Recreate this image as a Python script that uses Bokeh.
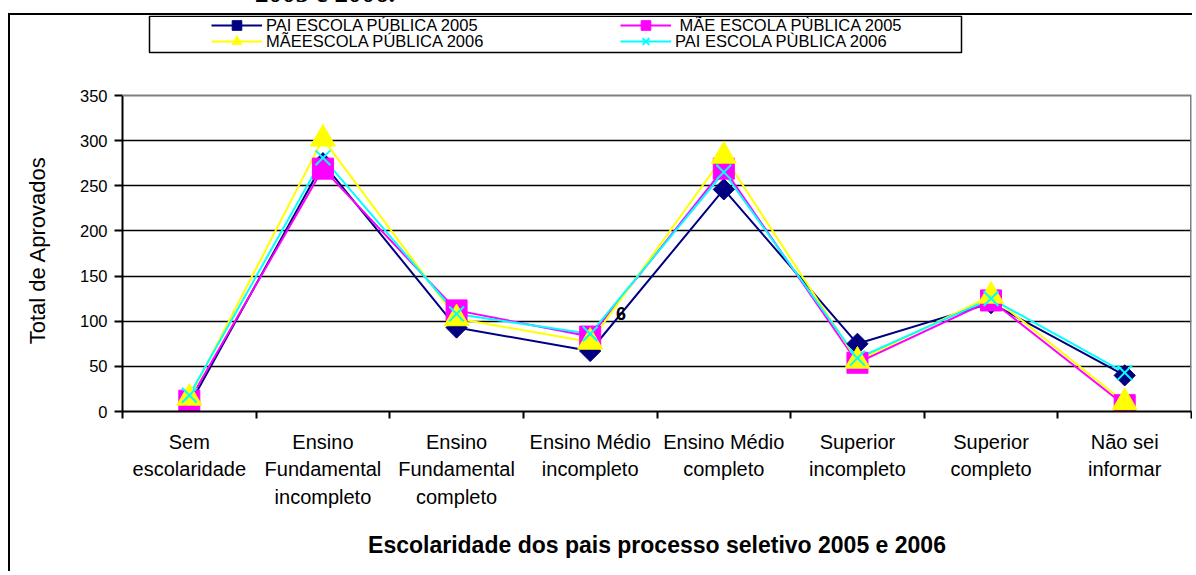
from bokeh.plotting import figure
from bokeh.layouts import column
from bokeh.models import (Range1d, FixedTicker, Legend, LegendItem, Label, BoxAnnotation, Span, Div)
from bokeh.embed import file_html
from bokeh.resources import INLINE
import math

# ---- data ----
categories = ["Sem\nescolaridade", "Ensino\nFundamental\nincompleto", "Ensino\nFundamental\ncompleto",
              "Ensino Médio\nincompleto", "Ensino Médio\ncompleto", "Superior\nincompleto",
              "Superior\ncompleto", "Não sei\ninformar"]
pai_2005 = [7, 275, 93, 67, 246, 75, 120, 40]
mae_2005 = [12, 269, 112, 83, 269, 54, 123, 7]
mae_2006 = [15, 302, 103, 77, 283, 56, 128, 10]
pai_2006 = [18, 281, 108, 86, 265, 59, 125, 43]
series_names = ["PAI ESCOLA PÚBLICA 2005", "\u00a0MÃE ESCOLA PÙBLICA 2005",
                "MÃEESCOLA PÚBLICA 2006", "PAI ESCOLA PÙBLICA 2006"]
y_ticks = [0, 50, 100, 150, 200, 250, 300, 350]
x_title = "Escolaridade dos pais processo seletivo 2005 e 2006"
y_title = "Total de Aprovados"
top_text = "2005 e 2006."

FONT = "Liberation Sans"
CX, CY = 10, 15                        # canvas origin on the page (margin + css border)
FL, FT, FR, FB = 122, 95, 1191, 411    # plot-area edges on the page (value 350 at FT)
W, H = 1196 - CX - 2, 575 - CY - 2
YMAX = y_ticks[-1]
y_top = YMAX * (FB - CY) / (FB - FT)   # frame reaches the top of the canvas
XMIN, XMAX = 0.5, len(categories) + 0.5

pos = list(range(1, len(categories) + 1))
bounds = [i + 0.5 for i in range(0, len(categories) + 1)]

p = figure(width=W, height=H, x_range=Range1d(XMIN, XMAX),
           y_range=Range1d(0, y_top), output_backend="svg", toolbar_location=None,
           min_border_left=FL - CX, min_border_right=(CX + W) - FR,
           min_border_top=0, min_border_bottom=(CY + H) - FB)
p.margin = (0, 0, 0, 8)
p.styles = {"border-left": "2px solid #000000", "border-top": "2px solid #000000"}
p.background_fill_color = "white"
p.border_fill_color = "white"
p.outline_line_color = None

# x axis
xa = p.xaxis[0]
xa.ticker = FixedTicker(ticks=pos, minor_ticks=bounds)
xa.major_label_overrides = {i: c for i, c in zip(pos, categories)}
xa.major_tick_out = 0
xa.major_tick_in = 0
xa.minor_tick_out = 7
xa.minor_tick_in = 0
xa.minor_tick_line_color = "black"
xa.minor_tick_line_width = 2
xa.axis_line_color = "black"
xa.axis_line_width = 2
xa.major_label_text_font = FONT
xa.major_label_text_font_size = "20px"
xa.major_label_text_color = "black"
xa.major_label_text_line_height = 1.25
xa.major_label_standoff = 12
xa.axis_label = x_title
xa.axis_label_text_font = FONT
xa.axis_label_text_font_style = "bold"
xa.axis_label_text_font_size = "23px"
xa.axis_label_text_color = "black"
xa.axis_label_standoff = 21

# y axis (its title is padded so that it centres on the 0-350 part)
ya = p.yaxis[0]
ya.ticker = FixedTicker(ticks=y_ticks)
ya.bounds = (0, YMAX)
ya.major_tick_out = 8
ya.major_tick_in = 0
ya.major_tick_line_color = "black"
ya.major_tick_line_width = 2
ya.minor_tick_out = 0
ya.minor_tick_in = 0
ya.axis_line_color = "black"
ya.axis_line_width = 2
ya.major_label_text_font = FONT
ya.major_label_text_font_size = "16.5px"
ya.major_label_text_color = "black"
ya.major_label_standoff = 7
ya.axis_label = y_title + "\u00a0" * 12
ya.axis_label_text_font = FONT
ya.axis_label_text_font_style = "normal"
ya.axis_label_text_font_size = "22px"
ya.axis_label_text_color = "black"
ya.axis_label_standoff = 27

p.xgrid.visible = False
p.ygrid.ticker = FixedTicker(ticks=y_ticks[1:-1])
p.ygrid.grid_line_color = "black"
p.ygrid.grid_line_width = 1.6
# grey top and right edges of the plot area
p.add_layout(Span(location=YMAX, dimension="width", line_color="#808080", line_width=2))
p.segment(x0=[XMAX], y0=[0], x1=[XMAX], y1=[YMAX], line_color="#808080", line_width=3)

# series
colors = ["#000080", "#FF00FF", "#FFFF00", "#00FFFF"]
data = [pai_2005, mae_2005, mae_2006, pai_2006]
lines = []
for vals, c in zip(data, colors):
    lines.append(p.line(pos, vals, line_color=c, line_width=2))

marks = []
marks.append(p.scatter(pos, pai_2005, marker="square", angle=math.pi / 4, size=15,
                       fill_color=colors[0], line_color=colors[0]))
marks.append(p.scatter(pos, mae_2005, marker="square", size=21,
                       fill_color=colors[1], line_color=colors[1]))
marks.append(p.scatter(pos, mae_2006, marker="triangle", size=25,
                       fill_color=colors[2], line_color=colors[2]))
marks.append(p.scatter(pos, pai_2006, marker="x", size=21,
                       line_color=colors[3], line_width=2))

# stray label
p.add_layout(Label(x=4.23, y=108.5, text="6", text_font=FONT, text_font_style="bold",
                   text_font_size="18px", text_align="center", text_baseline="middle",
                   text_color="black"))

# legend box (frame-relative screen units, y measured up from the plot bottom)
p.add_layout(BoxAnnotation(left=149 - FL, right=961 - FL, top=(FB - CY) - 0.75, bottom=FB - 52,
                           left_units="screen", right_units="screen",
                           top_units="screen", bottom_units="screen",
                           fill_alpha=0, line_color="black", line_width=1.5, line_alpha=1))

GH = 24
def row_legend(idx, row_center):
    items = [LegendItem(label=series_names[i], renderers=[lines[i], marks[i]]) for i in idx]
    return Legend(items=items, orientation="horizontal",
                  location=(211 - FL, FB - (row_center + GH / 2)),
                  border_line_alpha=0, background_fill_alpha=0, padding=0, margin=0,
                  spacing=2, glyph_width=51, glyph_height=GH, label_standoff=4,
                  label_width=352, label_height=GH, label_text_font=FONT,
                  label_text_font_size="16.5px", label_text_color="black")

p.add_layout(row_legend([0, 1], 25))
p.add_layout(row_legend([2, 3], 41))

# clipped caption line above the chart
head = Div(text=('<div style="position:relative;left:255px;top:-20px;white-space:nowrap;'
                 'font-family:\'Liberation Serif\';font-weight:bold;font-size:27px;'
                 'line-height:27px;color:#000">' + top_text + '</div>'),
           width=600, height=13, margin=(0, 0, 0, 0),
           styles={"overflow": "hidden"})

layout = column(head, p, spacing=0)
open("out.html", "w").write(file_html(layout, INLINE))
